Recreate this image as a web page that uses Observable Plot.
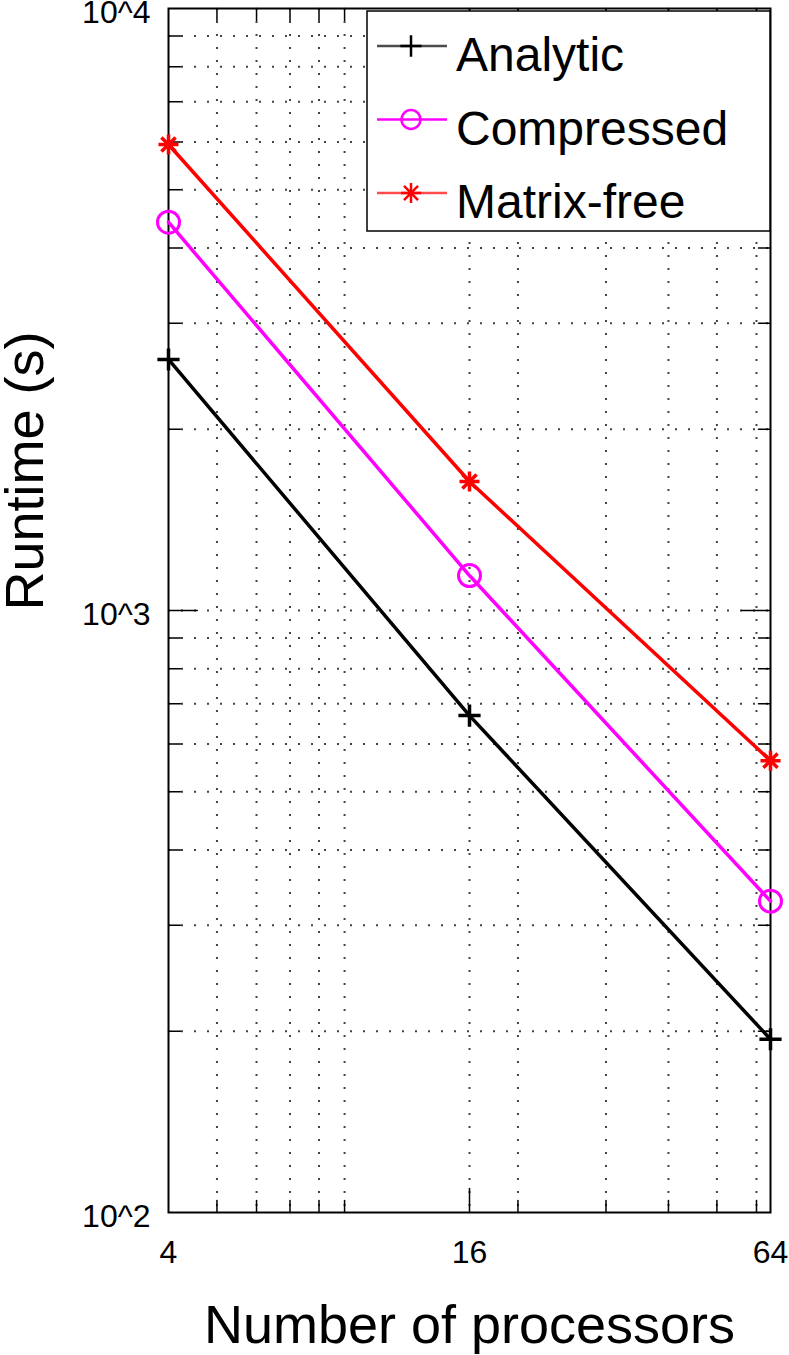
<!DOCTYPE html>
<html>
<head>
<meta charset="utf-8">
<script src="https://cdn.jsdelivr.net/npm/d3@7"></script>
<script src="https://cdn.jsdelivr.net/npm/@observablehq/plot@0.6"></script>
<style>
  html, body { margin: 0; padding: 0; background: #fff; }
  #chart { position: relative; width: 789px; height: 1355px; }
</style>
</head>
<body>
<div id="chart"></div>
<script>
// ---- data ----
const processors = [4, 16, 64];
const analytic = [2612, 669, 194];
const compressed = [4416, 1143, 329];
const matrixFree = [5944, 1638, 563];

const seriesNames = ["Analytic", "Compressed", "Matrix-free"];
const seriesColors = ["#000000", "#ff00ff", "#ff0000"];

const xTicks = [4, 16, 64];
const xTickLabels = ["4", "16", "64"];
const yTicks = [100, 1000, 10000];
const yTickLabels = ["10^2", "10^3", "10^4"];
const xGrid = [5, 6, 7, 8, 9, 16, 20, 30, 40, 50, 60];
const yGrid = [200, 300, 400, 500, 600, 700, 800, 900, 1000, 2000, 3000, 4000, 5000, 6000, 7000, 8000, 9000];
const xLabel = "Number of processors";
const yLabel = "Runtime (s)";

const rows = [];
[analytic, compressed, matrixFree].forEach((vals, s) => {
  processors.forEach((p, i) => rows.push({series: seriesNames[s], x: p, y: vals[i]}));
});
const bySeries = name => rows.filter(r => r.series === name);

const tickShape = {draw(ctx, l) { ctx.moveTo(0, 0); ctx.lineTo(0, -l); }};
const gridStyle = {stroke: "#222", strokeWidth: 2, strokeDasharray: "2,11", strokeOpacity: 0.85};
const tickStyle = {shape: tickShape, anchor: "start", stroke: "black", strokeWidth: 1.5};

const chart = Plot.plot({
  width: 789,
  height: 1355,
  marginLeft: 168,
  marginRight: 19,
  marginTop: 8,
  marginBottom: 143,
  style: {fontFamily: "'Liberation Sans', Arial, sans-serif", fontSize: "32px", background: "#fff", color: "#000", overflow: "visible"},
  x: {type: "log", domain: [4, 64], axis: null},
  y: {type: "log", domain: [100, 10000], axis: null},
  marks: [
    Plot.ruleX(xGrid, {x: d => d, ...gridStyle}),
    Plot.ruleY(yGrid, {y: d => d, ...gridStyle}),
    // inward tick marks
    Plot.vector(xGrid, {x: d => d, frameAnchor: "bottom", length: d => xTicks.includes(d) ? 10 : 5, rotate: 0, ...tickStyle}),
    Plot.vector(xGrid, {x: d => d, frameAnchor: "top", length: d => xTicks.includes(d) ? 10 : 5, rotate: 180, ...tickStyle}),
    Plot.vector(yGrid, {y: d => d, frameAnchor: "left", length: d => yTicks.includes(d) ? 12 : 5, rotate: 90, ...tickStyle}),
    Plot.vector(yGrid, {y: d => d, frameAnchor: "right", length: d => yTicks.includes(d) ? 12 : 5, rotate: -90, ...tickStyle}),
    Plot.frame({stroke: "black", strokeWidth: 2}),
    // tick labels
    Plot.text(xTicks, {x: d => d, frameAnchor: "bottom", dy: 28, lineAnchor: "top", fontSize: 32, text: d => xTickLabels[xTicks.indexOf(d)]}),
    Plot.text(yTicks, {y: d => d, frameAnchor: "left", dx: -18, dy: 4, textAnchor: "end", fontSize: 32, text: d => yTickLabels[yTicks.indexOf(d)]}),
    // axis titles
    Plot.text([xLabel], {frameAnchor: "bottom", text: d => d, dy: 130, lineAnchor: "bottom", fontSize: 54}),
    Plot.text([yLabel], {frameAnchor: "left", text: d => d, rotate: -90, dx: -126, lineAnchor: "bottom", fontSize: 54}),
    // series lines
    ...seriesNames.map((name, i) => Plot.line(bySeries(name), {x: "x", y: "y", stroke: seriesColors[i], strokeWidth: 3.5})),
    // markers
    Plot.dot(bySeries("Analytic"), {x: "x", y: "y", symbol: "plus", r: 7.2, stroke: seriesColors[0], strokeWidth: 3.5}),
    Plot.dot(bySeries("Compressed"), {x: "x", y: "y", symbol: "circle", r: 11, stroke: seriesColors[1], fill: "none", strokeWidth: 3}),
    Plot.dot(bySeries("Matrix-free"), {x: "x", y: "y", symbol: "plus", r: 6.5, stroke: seriesColors[2], strokeWidth: 3.5}),
    Plot.dot(bySeries("Matrix-free"), {x: "x", y: "y", symbol: "times", r: 6.5, stroke: seriesColors[2], strokeWidth: 3.5})
  ]
});

document.getElementById("chart").appendChild(chart);

// ---- legend (drawn into the same SVG, top-right of the frame) ----
const svg = d3.select(chart);
const lg = svg.append("g").attr("class", "legend")
  .attr("text-anchor", "start")
  .style("font-family", "'Liberation Sans', Arial, sans-serif");
lg.append("rect").attr("x", 367).attr("y", 11).attr("width", 403).attr("height", 220)
  .attr("fill", "#fff").attr("stroke", "#000").attr("stroke-width", 1.5);
const legendSymbols = [[d3.symbolPlus], [d3.symbolCircle], [d3.symbolPlus, d3.symbolTimes]];
const legendSizes = [[150], [Math.PI * 90], [133, 130]];
seriesNames.forEach((name, i) => {
  const cy = 46 + i * 73.5;
  const g = lg.append("g");
  g.append("line").attr("x1", 377).attr("x2", 447).attr("y1", cy).attr("y2", cy)
    .attr("stroke", seriesColors[i]).attr("stroke-width", 2.5).attr("stroke-opacity", i === 1 ? 1 : 0.7);
  legendSymbols[i].forEach((sym, k) => {
    g.append("path").attr("d", d3.symbol(sym, legendSizes[i][k])())
      .attr("transform", `translate(411,${cy})`)
      .attr("fill", "none").attr("stroke", seriesColors[i]).attr("stroke-width", 2.5);
  });
  g.append("text").attr("x", 456).attr("y", cy + 25).attr("font-size", 48)
    .attr("text-anchor", "start").attr("fill", "#000").text(name);
});
</script>
</body>
</html>
